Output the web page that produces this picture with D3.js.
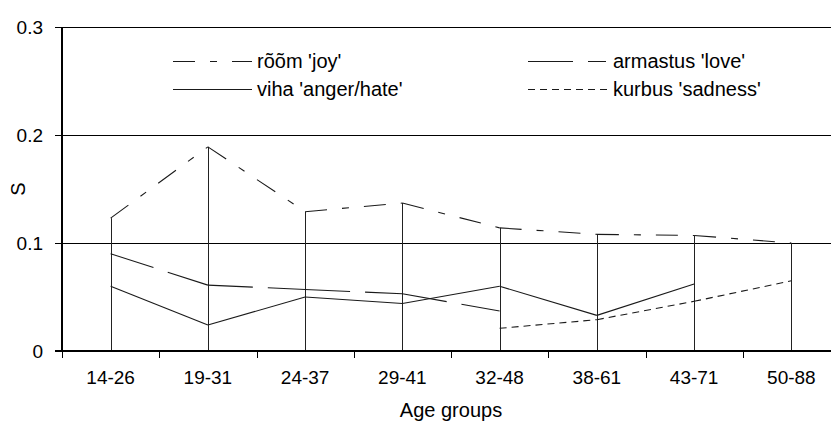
<!DOCTYPE html>
<html>
<head>
<meta charset="utf-8">
<script src="https://cdn.jsdelivr.net/npm/d3@7"></script>
<style>
  html, body { margin: 0; padding: 0; background: #fff; }
  svg { display: block; }
  text { font-family: "Liberation Sans", Arial, sans-serif; fill: #000; }
</style>
</head>
<body>
<svg id="chart" width="831" height="427"></svg>
<script>
// ---- data ----
const categories = ["14-26", "19-31", "24-37", "29-41", "32-48", "38-61", "43-71", "50-88"];
const joy     = [0.123, 0.189, 0.129, 0.137, 0.114, 0.108, 0.107, 0.100];
const love    = [0.090, 0.061, 0.057, 0.053, 0.037, null, null, null];
const anger   = [0.060, 0.024, 0.050, 0.044, 0.060, 0.033, 0.062, null];
const sadness = [null, null, null, null, 0.021, 0.029, 0.046, 0.065];
const yTicks = [0, 0.1, 0.2, 0.3];
const yTickLabels = ["0", "0.1", "0.2", "0.3"];
const seriesNames = ["rõõm 'joy'", "armastus 'love'", "viha 'anger/hate'", "kurbus 'sadness'"];
const xTitle = "Age groups";
const yTitle = "S";

(function () {
// ---- layout ----
const svg = d3.select("#chart");
const pL = 62, pR = 840, pT = 27, pB = 351;
const x = d3.scaleBand().domain(categories).range([pL, pR]).padding(0);
const y = d3.scaleLinear().domain([0, 0.3]).range([pB, pT]);
const cx = c => x(c) + x.bandwidth() / 2;

const series = [
  { name: seriesNames[0], values: joy,     dash: "22,15,7,15" },
  { name: seriesNames[1], values: love,    dash: "45,15" },
  { name: seriesNames[2], values: anger,   dash: null },
  { name: seriesNames[3], values: sadness, dash: "7,5" }
];

// gridlines
svg.append("g").selectAll("line").data(yTicks.filter(t => t > 0)).join("line")
  .attr("x1", pL).attr("x2", pR)
  .attr("y1", d => Math.round(y(d)) + 0.5).attr("y2", d => Math.round(y(d)) + 0.5)
  .attr("stroke", "#000").attr("stroke-width", 1);

// drop lines (from highest value to axis)
const maxVals = categories.map((c, i) => d3.max(series, s => s.values[i]));
svg.append("g").selectAll("line").data(categories).join("line")
  .attr("x1", c => Math.round(cx(c)) + 0.5).attr("x2", c => Math.round(cx(c)) + 0.5)
  .attr("y1", (c, i) => y(maxVals[i])).attr("y2", pB)
  .attr("stroke", "#222").attr("stroke-width", 1);

// series: each segment drawn separately so the dash pattern restarts at every point
const segLine = d3.line().x(d => cx(d.c)).y(d => y(d.v));
series.forEach(s => {
  const g = svg.append("g");
  for (let i = 0; i < categories.length - 1; i++) {
    const a = s.values[i], b = s.values[i + 1];
    if (a == null || b == null) continue;
    g.append("path")
      .attr("d", segLine([{ c: categories[i], v: a }, { c: categories[i + 1], v: b }]))
      .attr("fill", "none").attr("stroke", "#1a1a1a").attr("stroke-width", 1.1)
      .attr("stroke-dasharray", s.dash);
  }
});

// y axis
const yAxis = d3.axisLeft(y).tickValues(yTicks).tickSize(7).tickPadding(12)
  .tickFormat((d, i) => yTickLabels[i]);
const gy = svg.append("g").attr("transform", `translate(${pL},0)`).call(yAxis);
gy.select(".domain").remove();
gy.selectAll(".tick line").attr("stroke", "#000");
gy.selectAll(".tick text").attr("font-size", 19).attr("font-family", "Liberation Sans, Arial, sans-serif").attr("fill", "#000");
svg.append("line").attr("x1", pL).attr("x2", pL).attr("y1", pT).attr("y2", pB + 1)
  .attr("stroke", "#000").attr("stroke-width", 2);

// x axis: labels centred in bands, ticks at band edges
const xAxis = d3.axisBottom(x).tickSize(0).tickPadding(20);
const gx = svg.append("g").attr("transform", `translate(0,${pB})`).call(xAxis);
gx.select(".domain").remove();
gx.selectAll(".tick text").attr("font-size", 19).attr("font-family", "Liberation Sans, Arial, sans-serif").attr("fill", "#000");
const edges = categories.map(c => x(c)).concat([x(categories[categories.length - 1]) + x.bandwidth()]);
svg.append("g").selectAll("line").data(edges).join("line")
  .attr("x1", d => Math.round(d) + 0.5).attr("x2", d => Math.round(d) + 0.5)
  .attr("y1", pB).attr("y2", pB + 7)
  .attr("stroke", "#000").attr("stroke-width", 1);
svg.append("line").attr("x1", pL - 7).attr("x2", pR).attr("y1", pB).attr("y2", pB)
  .attr("stroke", "#000").attr("stroke-width", 2);

// axis titles
svg.append("text").attr("x", (pL + pR) / 2).attr("y", 417)
  .attr("text-anchor", "middle").attr("font-size", 20).text(xTitle);
svg.append("text").attr("transform", `translate(25,${(pT + pB) / 2}) rotate(-90)`)
  .attr("text-anchor", "middle").attr("font-size", 20).text(yTitle);

// legend
const legendItems = [
  { s: series[0], x1: 173, x2: 252, tx: 257, y: 61 },
  { s: series[1], x1: 528, x2: 606, tx: 613, y: 61 },
  { s: series[2], x1: 173, x2: 252, tx: 257, y: 89 },
  { s: series[3], x1: 528, x2: 610, tx: 613, y: 89 }
];
const lg = svg.append("g");
legendItems.forEach(it => {
  lg.append("line").attr("x1", it.x1).attr("x2", it.x2).attr("y1", it.y + 0.5).attr("y2", it.y + 0.5)
    .attr("stroke", "#1a1a1a").attr("stroke-width", 1.1).attr("stroke-dasharray", it.s.dash);
  lg.append("text").attr("x", it.tx).attr("y", it.y).attr("dy", "0.35em")
    .attr("font-size", 20).text(it.s.name);
});
})();
</script>
</body>
</html>
